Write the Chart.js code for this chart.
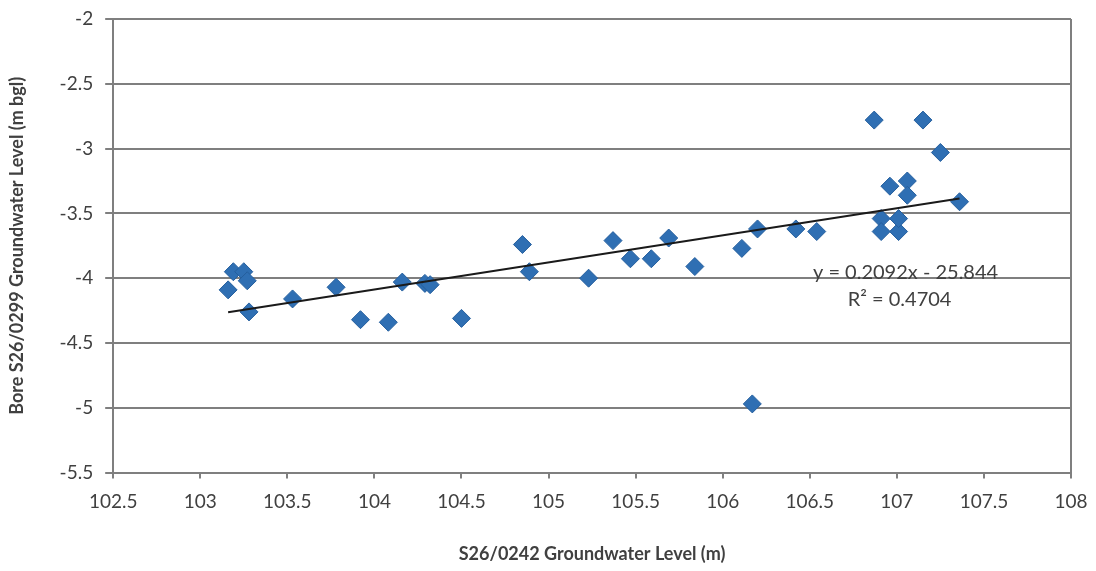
<!DOCTYPE html>
<html>
<head>
<meta charset="utf-8">
<script src="https://cdn.jsdelivr.net/npm/chart.js@4/dist/chart.umd.min.js"></script>
<style>
    html, body { margin: 0; padding: 0; background: #ffffff; }
    #wrap { width: 1096px; height: 571px; }
</style>
</head>
<body>
<div id="wrap"><canvas id="scatterChart"></canvas></div>
<script>
// S26/0242 level (x) vs bore S26/0299 level (y)
const levelS0242 = [
    103.16, 103.19, 103.25, 103.27, 103.28, 103.53, 103.78, 103.92, 104.08, 104.16,
    104.29, 104.32, 104.50, 104.85, 104.89, 105.23, 105.37, 105.47, 105.59, 105.69,
    105.84, 106.11, 106.20, 106.17, 106.42, 106.54, 106.87, 107.15, 107.25, 106.96,
    107.06, 107.06, 106.91, 106.91, 107.01, 107.01, 107.36
];
const levelS0299 = [
    -4.09, -3.95, -3.95, -4.02, -4.26, -4.16, -4.07, -4.32, -4.34, -4.03,
    -4.04, -4.05, -4.31, -3.74, -3.95, -4.00, -3.71, -3.85, -3.85, -3.69,
    -3.91, -3.77, -3.62, -4.97, -3.62, -3.64, -2.78, -2.78, -3.03, -3.29,
    -3.25, -3.36, -3.54, -3.64, -3.64, -3.54, -3.41
];

// linear trendline from the reference
const trendSlope = 0.2092;
const trendIntercept = -25.844;
const trendRange = [103.16, 107.36];
const trendLabels = ['y = 0.2092x - 25.844', 'R\u00b2 = 0.4704'];

const xTicks = [102.5, 103, 103.5, 104, 104.5, 105, 105.5, 106, 106.5, 107, 107.5, 108];
const yTicks = [-2, -2.5, -3, -3.5, -4, -4.5, -5, -5.5];

const scatterPoints = levelS0242.map((x, i) => ({ x: x, y: levelS0299[i] }));
const trendPoints = trendRange.map(x => ({ x: x, y: trendSlope * x + trendIntercept }));

const textColor = '#404040';
const fontFamily = 'Lato, "Open Sans", sans-serif';

// plot area outline plus the trendline equation
const extrasPlugin = {
    id: 'extras',
    afterDatasetsDraw(chart) {
        const { ctx, chartArea, scales } = chart;
        ctx.save();
        ctx.strokeStyle = '#7f7f7f';
        ctx.lineWidth = 2;
        ctx.beginPath();
        ctx.moveTo(chartArea.right, chartArea.top);
        ctx.lineTo(chartArea.right, chartArea.bottom);
        ctx.stroke();

        ctx.fillStyle = textColor;
        ctx.font = '20px ' + fontFamily;
        ctx.textAlign = 'center';
        ctx.textBaseline = 'middle';
        const cx = scales.x.getPixelForValue(107.05);
        ctx.fillText(trendLabels[0], cx, scales.y.getPixelForValue(-3.955));
        ctx.fillText(trendLabels[1], cx - 6, scales.y.getPixelForValue(-4.165));
        ctx.restore();
    }
};

new Chart(document.getElementById('scatterChart'), {
    type: 'scatter',
    data: {
        datasets: [
            {
                label: 'Groundwater level',
                data: scatterPoints,
                pointStyle: 'rectRot',
                pointRadius: 9,
                pointHoverRadius: 9,
                backgroundColor: '#2f6fb3',
                borderColor: '#255f9e',
                borderWidth: 1,
                order: 2
            },
            {
                label: 'Linear trend',
                type: 'line',
                data: trendPoints,
                borderColor: '#1a1a1a',
                borderWidth: 2,
                pointRadius: 0,
                fill: false,
                order: 1
            }
        ]
    },
    options: {
        responsive: true,
        maintainAspectRatio: false,
        animation: false,
        layout: { padding: { top: 19, right: 25, bottom: 6, left: 6 } },
        plugins: {
            legend: { display: false },
            tooltip: { enabled: false }
        },
        scales: {
            x: {
                type: 'linear',
                min: 102.5,
                max: 108,
                afterBuildTicks: (axis) => { axis.ticks = xTicks.map(v => ({ value: v })); },
                afterFit: (axis) => { axis.paddingRight = 0; },
                grid: { display: true, drawOnChartArea: false, drawTicks: true, tickLength: 6, color: '#7f7f7f', lineWidth: 2 },
                border: { color: '#7f7f7f', width: 2 },
                ticks: {
                    color: textColor,
                    font: { family: fontFamily, size: 19 },
                    padding: 12,
                    maxRotation: 0,
                    callback: (v) => String(v)
                },
                title: {
                    display: true,
                    text: 'S26/0242 Groundwater Level (m)',
                    color: textColor,
                    font: { family: fontFamily, size: 18, weight: 'bold' },
                    padding: { top: 18, bottom: 0 }
                }
            },
            y: {
                type: 'linear',
                min: -5.5,
                max: -2,
                afterBuildTicks: (axis) => { axis.ticks = yTicks.map(v => ({ value: v })); },
                afterFit: (axis) => { axis.paddingTop = 0; axis.paddingBottom = 0; },
                grid: { color: '#7f7f7f', lineWidth: 2, tickLength: 8 },
                border: { color: '#7f7f7f', width: 2 },
                ticks: {
                    color: textColor,
                    font: { family: fontFamily, size: 19 },
                    padding: 12,
                    callback: (v) => String(v)
                },
                title: {
                    display: true,
                    text: 'Bore S26/0299 Groundwater Level (m bgl)',
                    color: textColor,
                    font: { family: fontFamily, size: 18, weight: 'bold' },
                    padding: { top: 0, bottom: 20 }
                }
            }
        }
    },
    plugins: [extrasPlugin]
});
</script>
</body>
</html>
